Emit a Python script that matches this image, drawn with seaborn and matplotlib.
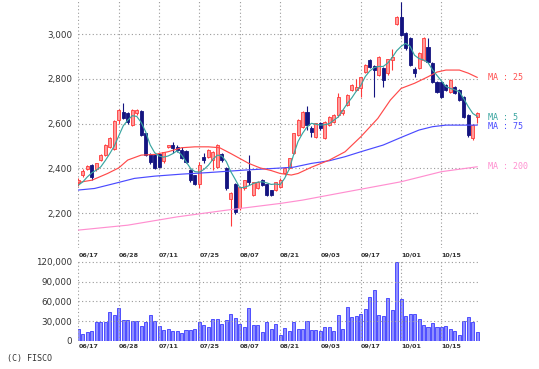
import numpy as np
import matplotlib
matplotlib.use("Agg")
import matplotlib.pyplot as plt
from matplotlib.ticker import FuncFormatter
import seaborn as sns

# trading days 06/17 .. 10/25, one entry per bar
dates = ["06/17", "06/28", "07/11", "07/25", "08/07", "08/21", "09/03", "09/17", "10/01", "10/15"]
date_pos = [0, 9, 18, 27, 36, 45, 54, 63, 72, 81]

opens = [2335, 2370, 2397, 2414, 2396, 2437, 2459, 2496, 2486, 2615,
         2653, 2645, 2593, 2645, 2655, 2556, 2466, 2459, 2466, 2432,
         2496, 2504, 2497, 2481, 2477, 2392, 2369, 2332, 2452, 2452,
         2437, 2407, 2466, 2402, 2261, 2332, 2221, 2310, 2390, 2280,
         2313, 2347, 2328, 2302, 2302, 2318, 2377, 2400, 2467, 2549,
         2586, 2653, 2578, 2541, 2601, 2534, 2593, 2608, 2638, 2645,
         2683, 2750, 2750, 2757, 2832, 2884, 2857, 2817, 2847, 2824,
         2884, 3045, 3075, 3003, 2981, 2842, 2847, 2884, 2943, 2872,
         2787, 2787, 2772, 2742, 2765, 2750, 2720, 2638, 2534, 2631]
closes = [2350, 2387, 2411, 2362, 2422, 2459, 2504, 2536, 2611, 2660,
          2626, 2608, 2660, 2660, 2551, 2459, 2429, 2402, 2407, 2471,
          2497, 2489, 2482, 2444, 2429, 2347, 2332, 2414, 2437, 2481,
          2474, 2504, 2437, 2310, 2290, 2206, 2318, 2347, 2340, 2337,
          2337, 2325, 2283, 2280, 2337, 2347, 2400, 2444, 2556, 2616,
          2653, 2593, 2563, 2601, 2578, 2608, 2630, 2638, 2720, 2660,
          2727, 2772, 2765, 2809, 2862, 2854, 2839, 2896, 2794, 2887,
          2899, 3075, 2996, 2936, 2862, 2827, 2917, 2981, 2876, 2787,
          2742, 2720, 2750, 2794, 2735, 2705, 2631, 2549, 2593, 2645]
highs = [2355, 2395, 2414, 2418, 2425, 2462, 2507, 2540, 2615, 2667,
         2690, 2650, 2665, 2667, 2660, 2560, 2470, 2462, 2470, 2474,
         2500, 2518, 2505, 2496, 2480, 2395, 2372, 2429, 2467, 2485,
         2478, 2507, 2470, 2405, 2295, 2335, 2322, 2350, 2459, 2340,
         2342, 2352, 2332, 2305, 2340, 2355, 2405, 2448, 2560, 2620,
         2656, 2678, 2589, 2604, 2605, 2612, 2634, 2642, 2735, 2665,
         2730, 2776, 2797, 2809, 2866, 2888, 2862, 2900, 2854, 2890,
         2935, 3080, 3145, 3010, 2985, 2854, 2920, 2985, 2981, 2876,
         2792, 2790, 2776, 2800, 2770, 2754, 2724, 2642, 2597, 2650]
lows = [2320, 2362, 2392, 2348, 2390, 2432, 2455, 2490, 2482, 2600,
        2620, 2600, 2590, 2640, 2545, 2455, 2420, 2398, 2400, 2425,
        2490, 2467, 2475, 2440, 2422, 2340, 2325, 2310, 2422, 2448,
        2392, 2400, 2430, 2305, 2143, 2198, 2215, 2305, 2325, 2275,
        2308, 2320, 2278, 2275, 2298, 2310, 2370, 2395, 2462, 2545,
        2580, 2570, 2540, 2535, 2572, 2530, 2588, 2603, 2630, 2640,
        2678, 2745, 2746, 2720, 2825, 2850, 2720, 2812, 2765, 2818,
        2840, 3040, 2990, 2930, 2856, 2810, 2842, 2880, 2870, 2782,
        2736, 2715, 2745, 2738, 2730, 2700, 2625, 2540, 2528, 2601]
volume = [18200, 10600, 13200, 14700, 28900, 28900, 28900, 43600, 40000, 49600,
          31900, 31900, 30900, 30000, 22800, 28900, 39500, 30900, 22800, 16200,
          18200, 15200, 15700, 12200, 16700, 16700, 18700, 29400, 24300, 20800,
          33400, 33400, 25800, 31900, 41000, 35000, 25800, 20800, 49600, 24300,
          24300, 14200, 29400, 18200, 25800, 9100, 19200, 15700, 28900, 18200,
          18200, 30900, 16700, 16700, 14700, 20800, 20800, 15700, 39500, 18200,
          51100, 36900, 38500, 41000, 48600, 66300, 77500, 39500, 38500, 64800,
          47100, 120000, 63300, 38500, 41000, 41000, 33400, 24300, 20800, 26800,
          21800, 20800, 23300, 18200, 14700, 9100, 30400, 36900, 28400, 13200]

ma5 = [2325, 2340, 2362, 2380, 2392, 2407, 2435, 2466, 2500, 2545,
       2590, 2615, 2635, 2632, 2605, 2563, 2505, 2470, 2455, 2450,
       2455, 2465, 2478, 2460, 2430, 2400, 2385, 2383, 2395, 2414,
       2440, 2459, 2455, 2430, 2385, 2350, 2313, 2315, 2322, 2332,
       2338, 2340, 2335, 2328, 2330, 2327, 2355, 2395, 2460, 2520,
       2556, 2585, 2601, 2597, 2593, 2595, 2600, 2615, 2630, 2660,
       2690, 2715, 2745, 2770, 2810, 2835, 2850, 2855, 2855, 2870,
       2895, 2925, 2945, 2958, 2945, 2905, 2890, 2884, 2872, 2840,
       2815, 2790, 2765, 2757, 2750, 2742, 2710, 2675, 2645, 2632]
ma25_x = [0, 3, 6.5, 9, 11, 14, 17, 20, 23, 26, 29, 31.5, 34, 36, 38, 40.5, 43, 45,
          47.5, 49, 52, 56, 59.5, 63, 66.8, 69.6, 72, 75, 78, 80, 82, 85, 87, 89]
ma25 = [2337, 2347, 2377, 2402, 2437, 2459, 2462, 2474, 2492, 2496, 2496, 2492, 2466,
        2444, 2422, 2402, 2390, 2377, 2370, 2377, 2405, 2437, 2474, 2541, 2623, 2705,
        2757, 2780, 2809, 2830, 2839, 2839, 2825, 2806]
ma75_x = [0, 3.6, 8, 12.5, 17, 23, 29, 37, 44, 48, 52, 56, 59.5, 63, 68, 72, 76, 79, 82, 89]
ma75 = [2303, 2310, 2332, 2355, 2365, 2374, 2381, 2392, 2400, 2405, 2422, 2434, 2452,
        2474, 2504, 2538, 2571, 2586, 2593, 2593]
ma200_x = [0, 11, 22, 33, 45, 50, 58, 72, 81, 89]
ma200 = [2124, 2146, 2183, 2213, 2243, 2258, 2288, 2340, 2385, 2407]

idx = np.arange(len(opens))
opens = np.array(opens)
closes = np.array(closes)

sns.set_style("white")
plt.rcParams["font.family"] = ["DejaVu Sans"]

fig = plt.figure(figsize=(5.39, 3.69), dpi=100)
ax = fig.add_axes([78 / 539, 1 - 248 / 369, 402 / 539, 248 / 369])
axv = fig.add_axes([78 / 539, 1 - 341 / 369, 402 / 539, 81 / 369])

grid_kw = dict(color="#9a9a9a", linestyle=(0, (1, 2.2)), linewidth=0.8)

# price panel
ax.set_axisbelow(True)
for p in [2200, 2400, 2600, 2800, 3000]:
    ax.axhline(p, zorder=0, **grid_kw)
for d in date_pos:
    ax.axvline(d, zorder=0, **grid_kw)

up = closes > opens
eq = closes == opens
wick_col = np.where(up, "#ff3a3a", "#141480")
wick_col = np.where(eq, "#2e8b2e", wick_col)
body_fc = np.where(up, "#ff9a9a", "#141480")
body_fc = np.where(eq, "#3c9a3c", body_fc)
body_ec = np.where(up, "#ff3a3a", "#141480")
body_ec = np.where(eq, "#2e8b2e", body_ec)
ax.vlines(idx, lows, highs, colors=wick_col, linewidth=0.8, zorder=2)
body_h = np.maximum(np.abs(closes - opens), 6)
ax.bar(idx, body_h, bottom=np.minimum(opens, closes) - np.where(eq, 3, 0), width=0.68,
       color=body_fc, edgecolor=body_ec, linewidth=0.6, zorder=3)

sns.lineplot(x=ma200_x, y=ma200, ax=ax, color="#ff8fd0", linewidth=0.85, zorder=4)
sns.lineplot(x=ma75_x, y=ma75, ax=ax, color="#4a4aff", linewidth=0.85, zorder=4)
sns.lineplot(x=ma25_x, y=ma25, ax=ax, color="#ff4a4a", linewidth=0.85, zorder=4)
sns.lineplot(x=idx, y=ma5, ax=ax, color="#3aa5a0", linewidth=0.85, zorder=5)

ax.set_xlim(-0.1, 89.6)
ax.set_ylim(2044, 3152)
ax.set_yticks([2200, 2400, 2600, 2800, 3000])
ax.yaxis.set_major_formatter(FuncFormatter(lambda v, _: f"{v:,.0f}"))
ax.set_xticks([])
ax.tick_params(axis="y", length=0, pad=4, labelsize=6.3, labelcolor="#333333")
ax.set_xlabel("")
ax.set_ylabel("")
for s in ax.spines.values():
    s.set_visible(False)

mono = dict(family="DejaVu Sans Mono", fontsize=6, va="center", clip_on=False)
ax.text(91.3, ma25[-1], "MA : 25", color="#ff5050", **mono)
ax.text(91.3, 2627, "MA : 5", color="#3aa5a0", **mono)
ax.text(91.3, 2585, "MA : 75", color="#4a4aff", **mono)
ax.text(91.3, ma200[-1], "MA : 200", color="#ff8fd0", **mono)

# volume panel
sns.barplot(x=idx, y=volume, ax=axv, color="#8f8fff", edgecolor="#3a3aff",
            linewidth=0.6, width=0.68, saturation=1, zorder=2)
for v in [30000, 60000, 90000, 120000]:
    axv.axhline(v, zorder=3, **grid_kw)
for d in date_pos:
    axv.axvline(d, zorder=3, **grid_kw)
axv.set_xlim(-0.1, 89.6)
axv.set_ylim(0, 123000)
axv.set_yticks([0, 30000, 60000, 90000, 120000])
axv.yaxis.set_major_formatter(FuncFormatter(lambda v, _: f"{v:,.0f}"))
axv.set_xticks(date_pos)
axv.set_xticklabels(dates, ha="left", fontweight="bold")
axv.tick_params(axis="x", top=True, labeltop=True, bottom=True, labelbottom=True,
                length=0, pad=1.5, labelsize=4.6, labelcolor="#333333")
axv.tick_params(axis="y", length=0, pad=4, labelsize=6.3, labelcolor="#333333")
axv.set_xlabel("")
axv.set_ylabel("")
for s in axv.spines.values():
    s.set_visible(False)

fig.text(7 / 539, 1 - 359 / 369, "(C) FISCO", family="DejaVu Sans Mono", fontsize=6,
         color="#333333", va="center")

fig.savefig("out.png", dpi=100, facecolor="white")
